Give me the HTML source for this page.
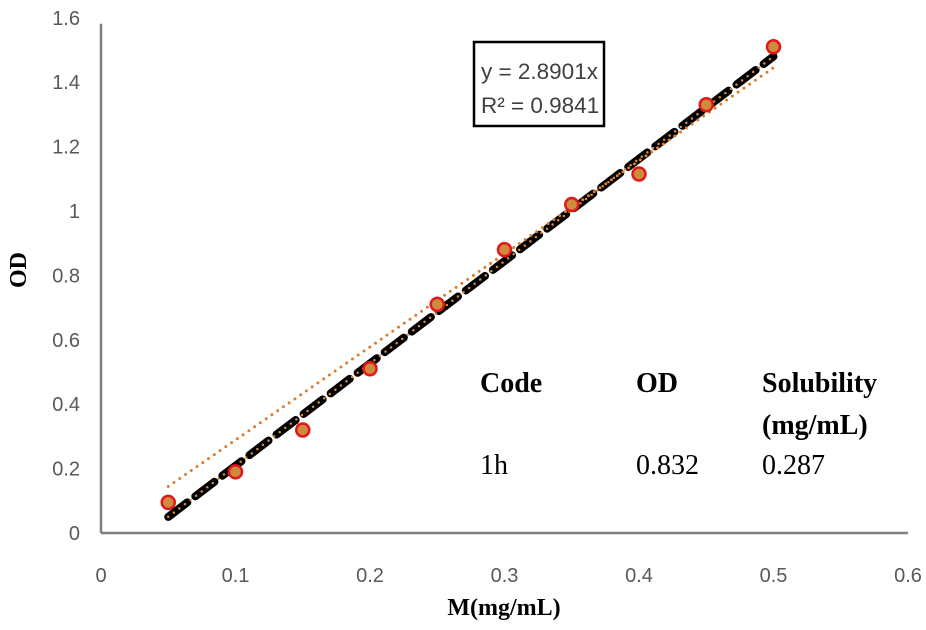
<!DOCTYPE html>
<html><head><meta charset="utf-8"><style>
body{margin:0;background:#fff;}
svg{display:block;}
.tick{font-family:"Liberation Sans",sans-serif;font-size:20px;fill:#595959;}
.tb{font-family:"Liberation Serif",serif;font-size:28px;font-weight:bold;fill:#000;}
.tn{font-family:"Liberation Serif",serif;font-size:28px;fill:#000;}
.ax{font-family:"Liberation Serif",serif;font-size:24px;font-weight:bold;fill:#000;}
</style></head><body>
<svg id="chart" width="926" height="630">
<g id="grid"></g>
<g id="lines"></g>
<g id="points"></g>
<g>
<rect x="474" y="42" width="130" height="84" fill="#fff" stroke="#000" stroke-width="2.5"/>
<text x="481" y="79" style="font-family:'Liberation Sans',sans-serif;font-size:22.5px;fill:#404040">y = 2.8901x</text>
<text x="481" y="113" style="font-family:'Liberation Sans',sans-serif;font-size:22.5px;fill:#404040">R² = 0.9841</text>
</g>
<text class="tb" x="480" y="392">Code</text>
<text class="tb" x="636" y="392">OD</text>
<text class="tb" x="762" y="392">Solubility</text>
<text class="tb" x="762" y="434">(mg/mL)</text>
<text class="tn" x="480" y="474">1h</text>
<text class="tn" x="636" y="474">0.832</text>
<text class="tn" x="762" y="474">0.287</text>
<text class="ax" x="504" y="615" text-anchor="middle">M(mg/mL)</text>
<text class="ax" transform="translate(26,270) rotate(-90)" text-anchor="middle">OD</text>
</svg>
<script>
const xVals=[0.05,0.1,0.15,0.2,0.25,0.3,0.35,0.4,0.45,0.5];
const yVals=[0.095,0.19,0.32,0.51,0.71,0.88,1.02,1.115,1.33,1.51];
const xTicks=[0,0.1,0.2,0.3,0.4,0.5,0.6];
const yTicks=[0,0.2,0.4,0.6,0.8,1,1.2,1.4,1.6];
const trendSlope=[2.8901];
const fitLine=[[0.05,0.05],[0.5,1.48]];
const X=v=>101+v*1345;
const Y=v=>533-v*322;
const NS="http://www.w3.org/2000/svg";
function mk(t,a,p){const e=document.createElementNS(NS,t);for(const k in a)e.setAttribute(k,a[k]);p.appendChild(e);return e;}
const g=document.getElementById('grid'),L=document.getElementById('lines'),P=document.getElementById('points');
let ax=mk('line',{x1:X(0),y1:Y(1.6)+6,x2:X(0),y2:Y(0),stroke:'#7f7f7f','stroke-width':2.5},g);


let ax2=mk('line',{x1:X(0),y1:Y(0),x2:X(0.6),y2:Y(0),stroke:'#7f7f7f','stroke-width':2.5},g);


xTicks.forEach(v=>{const t=mk('text',{x:X(v),y:582,'text-anchor':'middle',class:'tick'},g);t.textContent=String(v);

});
yTicks.forEach(v=>{const t=mk('text',{x:80,y:Y(v)+7,'text-anchor':'end',class:'tick'},g);t.textContent=String(v);

});
const bl=mk('line',{x1:X(fitLine[0][0]),y1:Y(fitLine[0][1]),x2:X(fitLine[1][0]),y2:Y(fitLine[1][1]),stroke:'#000','stroke-width':8,'stroke-dasharray':'24 10','stroke-linecap':'round'},L);


const bd=mk('line',{x1:X(fitLine[0][0]),y1:Y(fitLine[0][1]),x2:X(fitLine[1][0]),y2:Y(fitLine[1][1]),stroke:'#d98c3a','stroke-width':2.5,'stroke-dasharray':'0 7','stroke-linecap':'round'},L);


const x0=xVals[0],x1=xVals[xVals.length-1];
const tl=mk('line',{x1:X(x0),y1:Y(trendSlope[0]*x0),x2:X(x1),y2:Y(trendSlope[0]*x1),stroke:'#e07b28','stroke-width':3,'stroke-dasharray':'0 7','stroke-linecap':'round'},L);


xVals.forEach((x,i)=>{const c=mk('circle',{cx:X(x),cy:Y(yVals[i]),r:6.5,fill:'#d08a3c',stroke:'#e0181c','stroke-width':2.5},P);

});
</script>
</body></html>
